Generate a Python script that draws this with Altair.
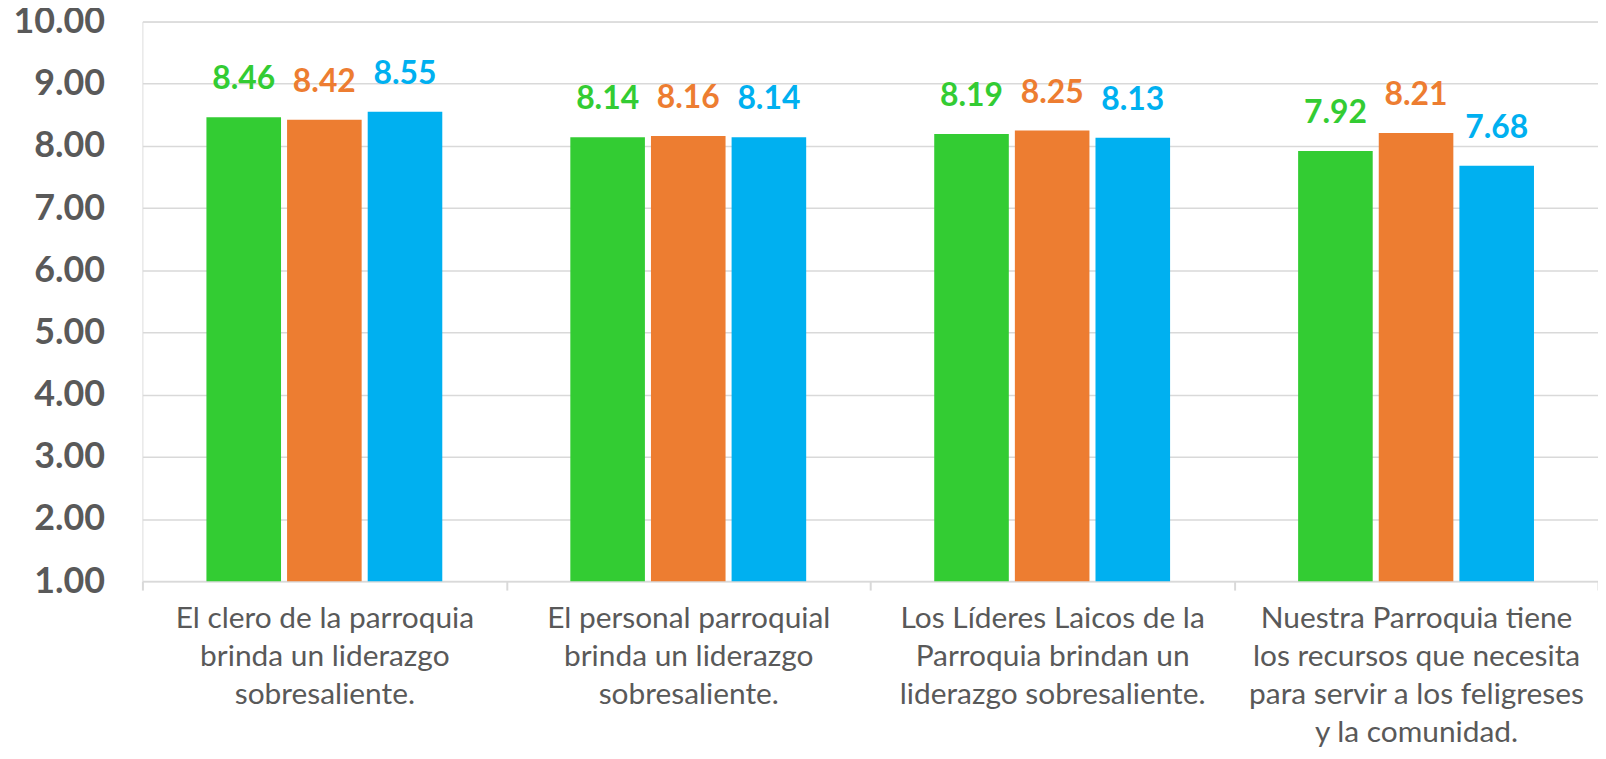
import altair as alt
import pandas as pd

categories = [
    "El clero de la parroquia|brinda un liderazgo|sobresaliente.",
    "El personal parroquial|brinda un liderazgo|sobresaliente.",
    "Los Líderes Laicos de la|Parroquia brindan un|liderazgo sobresaliente.",
    "Nuestra Parroquia tiene|los recursos que necesita|para servir a los feligreses|y la comunidad.",
]
series = ["Serie 1", "Serie 2", "Serie 3"]
serie1 = [8.46, 8.14, 8.19, 7.92]
serie2 = [8.42, 8.16, 8.25, 8.21]
serie3 = [8.55, 8.14, 8.13, 7.68]
colors = ["#33CC33", "#ED7D31", "#00B0F0"]

rows = []
for i, c in enumerate(categories):
    for s, vals in zip(series, [serie1, serie2, serie3]):
        rows.append({"categoria": c, "serie": s, "valor": vals[i]})
df = pd.DataFrame(rows)

FONT = "Lato"
GRAY = "#595959"

x = alt.X(
    "categoria:N",
    sort=categories,
    title=None,
    scale=alt.Scale(paddingInner=0, paddingOuter=0),
    axis=alt.Axis(
        labelExpr="split(datum.label, '|')",
        labelAngle=0,
        labelFont=FONT,
        labelFontSize=30,
        labelColor=GRAY,
        labelLineHeight=38,
        labelBaseline="top",
        labelPadding=14,
        labelLimit=500,
        tickBand="extent",
        tickColor="#D9D9D9",
        tickWidth=2,
        tickSize=9,
        domainColor="#D9D9D9",
        domainWidth=2,
        grid=False,
    ),
)
xo = alt.XOffset("serie:N", sort=series, scale=alt.Scale(paddingInner=0.075, paddingOuter=0.794))
y = alt.Y(
    "valor:Q",
    title=None,
    scale=alt.Scale(domain=[1, 10], zero=False, nice=False),
    axis=alt.Axis(
        values=[1, 2, 3, 4, 5, 6, 7, 8, 9, 10],
        format=".2f",
        labelFont=FONT,
        labelFontSize=36,
        labelFontWeight="bold",
        labelColor=GRAY,
        labelPadding=38,
        ticks=False,
        domain=False,
        gridColor="#D9D9D9",
        gridWidth=1.5,
    ),
)
color = alt.Color("serie:N", sort=series, scale=alt.Scale(domain=series, range=colors), legend=None)

bars = alt.Chart(df).mark_bar().encode(x=x, xOffset=xo, y=y, y2=alt.datum(1), color=color)
labels = alt.Chart(df).mark_text(
    font=FONT, fontSize=32, fontWeight="bold", baseline="alphabetic", dy=-28
).encode(x=x, xOffset=xo, y=y, text=alt.Text("valor:Q", format=".2f"), color=color)

chart = (
    alt.layer(bars, labels)
    .properties(
        width=1462,
        height=562,
        autosize=alt.AutoSizeParams(type="none"),
        padding={"left": 135, "top": 12, "right": 0, "bottom": 176},
    )
    .configure_view(stroke=None)
    .configure(background="white")
)

chart.save("out.html", embed_options={"renderer": "svg", "actions": False})
